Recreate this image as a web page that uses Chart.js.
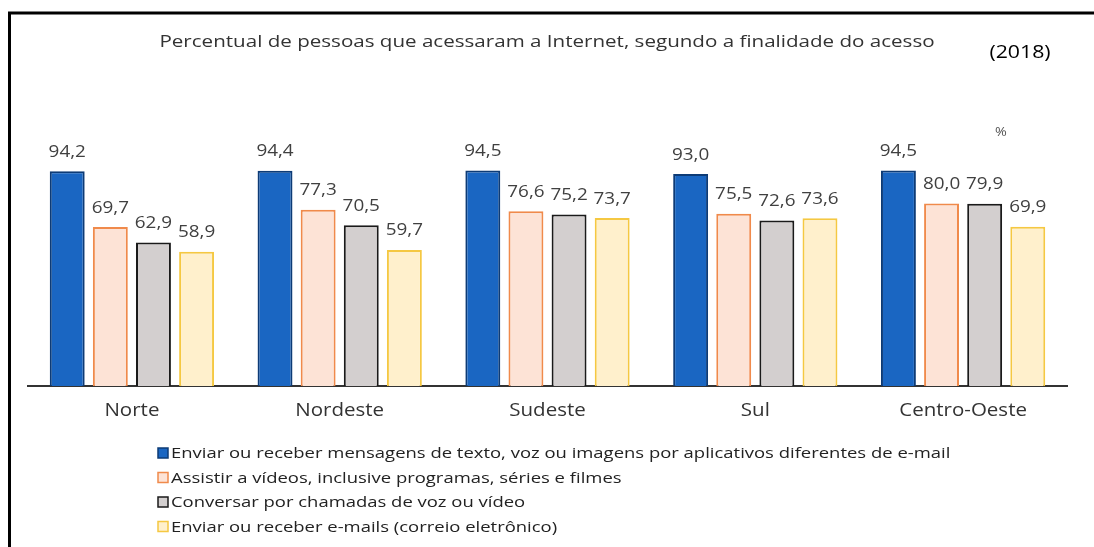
<!DOCTYPE html>
<html>
<head>
<meta charset="utf-8">
<script src="https://cdn.jsdelivr.net/npm/chart.js@4"></script>
<style>
  html, body { margin: 0; padding: 0; background: #fff; }
  #wrap { width: 1094px; height: 547px; position: relative; }
</style>
</head>
<body>
<div id="wrap"><canvas id="chart" width="1094" height="547"></canvas></div>
<script>
// data
const regions = ['Norte', 'Nordeste', 'Sudeste', 'Sul', 'Centro-Oeste'];
const mensagens = [94.2, 94.4, 94.5, 93.0, 94.5];
const videos = [69.7, 77.3, 76.6, 75.5, 80.0];
const chamadas = [62.9, 70.5, 75.2, 72.6, 79.9];
const emails = [58.9, 59.7, 73.7, 73.6, 69.9];
const seriesNames = [
    'Enviar ou receber mensagens de texto, voz ou imagens por aplicativos diferentes de e-mail',
    'Assistir a vídeos, inclusive programas, séries e filmes',
    'Conversar por chamadas de voz ou vídeo',
    'Enviar ou receber e-mails (correio eletrônico)'
];
const titleText = 'Percentual de pessoas que acessaram a Internet, segundo a finalidade do acesso';

const FONT = '"Open Sans", sans-serif';
const fills = ['#1a66c2', '#fde3d6', '#d3cfcf', '#fff0cc'];
const borders = ['#0d3b76', '#f08a4b', '#1a1a1a', '#f5c842'];

// the original text is wide, so draw it stretched horizontally
function wideText(ctx, text, x, y, align, sx) {
    const w = ctx.measureText(text).width * sx;
    let left = x;
    if (align === 'center') left = x - w / 2;
    if (align === 'right') left = x - w;
    ctx.save();
    ctx.textAlign = 'left';
    ctx.translate(left, y);
    ctx.scale(sx, 1);
    ctx.fillText(text, 0, 0);
    ctx.restore();
}

// value labels above the bars
const valueLabels = {
    id: 'valueLabels',
    afterDatasetsDraw(chart) {
        const ctx = chart.ctx;
        ctx.save();
        ctx.font = '16px ' + FONT;
        ctx.fillStyle = '#404040';
        ctx.textBaseline = 'middle';
        chart.data.datasets.forEach((ds, i) => {
            chart.getDatasetMeta(i).data.forEach((bar, j) => {
                const txt = ds.data[j].toFixed(1).replace('.', ',');
                wideText(ctx, txt, bar.x, bar.y - 19, 'center', 1.18);
            });
        });
        ctx.restore();
    }
};

// category names, title, year, unit, frame and legend
const decorations = {
    id: 'decorations',
    afterDraw(chart) {
        const ctx = chart.ctx;
        const xs = chart.scales.x;
        ctx.save();
        // frame (top and left)
        ctx.strokeStyle = '#000';
        ctx.lineWidth = 3;
        ctx.beginPath();
        ctx.moveTo(1094, 13);
        ctx.lineTo(9.5, 13);
        ctx.lineTo(9.5, 547);
        ctx.stroke();

        ctx.textBaseline = 'middle';
        ctx.fillStyle = '#333';
        ctx.font = '18px ' + FONT;
        chart.data.labels.forEach((lab, i) => {
            wideText(ctx, lab, xs.getPixelForValue(i), 411, 'center', 1.14);
        });

        ctx.font = '17px ' + FONT;
        wideText(ctx, titleText, 547, 42, 'center', 1.21);

        ctx.fillStyle = '#000';
        ctx.font = '19px ' + FONT;
        wideText(ctx, '(2018)', 1020, 53, 'center', 1.12);

        ctx.fillStyle = '#555';
        ctx.font = '13px ' + FONT;
        wideText(ctx, '%', 1001, 132, 'center', 1.1);

        // legend
        ctx.font = '15px ' + FONT;
        chart.data.datasets.forEach((ds, i) => {
            const y = 453 + i * 24.5;
            ctx.fillStyle = ds.backgroundColor;
            ctx.fillRect(158, y - 5, 10, 10);
            ctx.strokeStyle = ds.borderColor;
            ctx.lineWidth = 1.5;
            ctx.strokeRect(158, y - 5, 10, 10);
            ctx.fillStyle = '#222';
            wideText(ctx, ds.label, 171, y + 1, 'left', 1.23);
        });
        ctx.restore();
    }
};

const seriesValues = [mensagens, videos, chamadas, emails];

new Chart(document.getElementById('chart').getContext('2d'), {
    type: 'bar',
    data: {
        labels: regions,
        datasets: seriesValues.map((vals, i) => ({
            label: seriesNames[i],
            data: vals,
            backgroundColor: fills[i],
            borderColor: borders[i],
            borderWidth: 2,
            categoryPercentage: 0.83,
            barPercentage: 0.81
        }))
    },
    options: {
        responsive: false,
        animation: false,
        layout: { padding: { left: 28, right: 27, top: 158, bottom: 161 } },
        plugins: {
            legend: { display: false },
            title: { display: false },
            tooltip: { enabled: false }
        },
        scales: {
            x: {
                grid: { display: false, drawTicks: false },
                border: { display: true, color: '#333', width: 2 },
                ticks: { display: false }
            },
            y: {
                display: false,
                min: 0,
                max: 100
            }
        }
    },
    plugins: [valueLabels, decorations]
});
</script>
</body>
</html>
